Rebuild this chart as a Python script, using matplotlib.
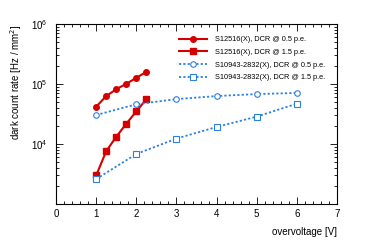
import matplotlib
matplotlib.use('Agg')
import matplotlib.pyplot as plt
from matplotlib.ticker import MultipleLocator, LogLocator, NullFormatter

plt.rcParams['font.family'] = ['Liberation Sans', 'DejaVu Sans']

# S12516(X)
v_s12516 = [1.0, 1.25, 1.5, 1.75, 2.0, 2.25]
dcr_s12516_05 = [4.2e4, 6.3e4, 8.2e4, 1.01e5, 1.27e5, 1.6e5]
dcr_s12516_15 = [3.0e3, 7.6e3, 1.32e4, 2.18e4, 3.5e4, 5.6e4]

# S10943-2832(X)
v_s10943 = [1, 2, 3, 4, 5, 6]
dcr_s10943_05 = [3.04e4, 4.6e4, 5.6e4, 6.3e4, 6.8e4, 7.1e4]
dcr_s10943_15 = [2.6e3, 6.8e3, 1.23e4, 1.92e4, 2.86e4, 4.7e4]

red = '#d40000'
blue = '#2a80e0'

fig = plt.figure(figsize=(3.74, 2.41), dpi=100)
ax = fig.add_axes([0.150, 0.154, 0.751, 0.746])

ax.plot(v_s12516, dcr_s12516_05, color=red, lw=1.5, marker='o', ms=4,
        label='S12516(X), DCR @ 0.5 p.e.')
ax.plot(v_s12516, dcr_s12516_15, color=red, lw=1.5, marker='s', ms=4,
        label='S12516(X), DCR @ 1.5 p.e.')
ax.plot(v_s10943, dcr_s10943_05, color=blue, lw=1.3, ls=(0, (1.2, 1.2)), marker='o', ms=4,
        mfc='white', mec=blue, mew=0.8, label='S10943-2832(X), DCR @ 0.5 p.e.')
ax.plot(v_s10943, dcr_s10943_15, color=blue, lw=1.3, ls=(0, (1.2, 1.2)), marker='s', ms=4,
        mfc='white', mec=blue, mew=0.8, label='S10943-2832(X), DCR @ 1.5 p.e.')

ax.set_yscale('log')
ax.set_xlim(0, 7)
ax.set_ylim(1e3, 1e6)
ax.set_yticks([1e4, 1e5, 1e6])
ax.yaxis.set_minor_locator(LogLocator(base=10, subs=range(2, 10)))
ax.yaxis.set_minor_formatter(NullFormatter())
ax.xaxis.set_major_locator(MultipleLocator(1))
ax.xaxis.set_minor_locator(MultipleLocator(0.2))

ax.tick_params(which='both', direction='in', top=True, right=True, labelsize=7, width=0.6)
ax.tick_params(which='major', length=5)
ax.tick_params(which='minor', length=2.5)
ax.tick_params(axis='y', which='major', pad=6)
for s in ax.spines.values():
    s.set_linewidth(0.8)

ax.set_xlabel('overvoltage [V]', fontsize=7, loc='right', labelpad=6)
ax.set_ylabel('dark count rate [Hz / mm$^2$]', fontsize=7, loc='top', labelpad=5)

ax.legend(loc='upper right', bbox_to_anchor=(0.98, 0.97), frameon=False, fontsize=5.3,
          handlelength=3.8, labelspacing=0.75, handletextpad=1.0)

fig.savefig('out.png', dpi=100)
